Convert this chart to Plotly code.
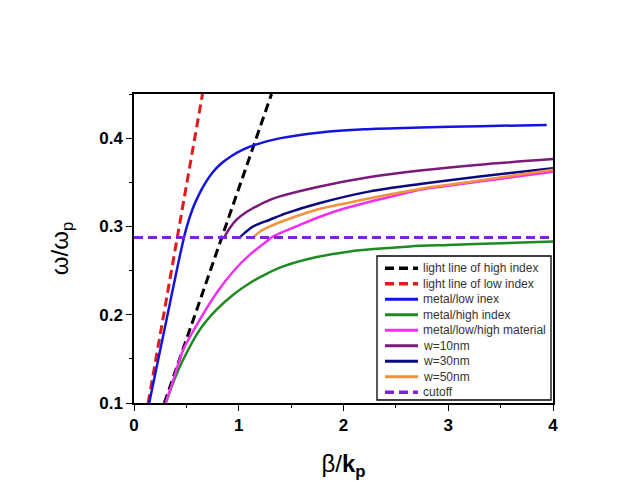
import plotly.graph_objects as go

# ---------------- data ----------------
black_x = [0.29, 1.313]
black_y = [0.10, 0.45]

red_x = [0.135, 0.654]
red_y = [0.10, 0.45]

blue_x = [0.145, 0.25, 0.35, 0.44, 0.50, 0.56, 0.62, 0.68, 0.75, 0.83, 0.92,
          1.04, 1.17, 1.40, 1.78, 2.2, 2.73, 3.3, 3.94]
blue_y = [0.100, 0.160, 0.217, 0.268, 0.298, 0.320, 0.336, 0.349, 0.361, 0.371, 0.379,
          0.387, 0.393, 0.400, 0.4065, 0.410, 0.412, 0.4135, 0.415]

green_x = [0.303, 0.38, 0.469, 0.628, 0.788, 0.947, 1.106, 1.265, 1.425, 1.744, 2.062,
           2.285, 2.635, 3.0, 3.5, 4.0]
green_y = [0.100, 0.125, 0.149, 0.183, 0.2057, 0.2226, 0.2359, 0.2463, 0.2547, 0.2653, 0.2717,
           0.2744, 0.2774, 0.279, 0.281, 0.283]

magenta_x = [0.303, 0.38, 0.469, 0.628, 0.788, 0.947, 1.106, 1.265, 1.329, 1.55, 1.775,
             2.0, 2.253, 2.5, 2.73, 3.0, 3.5, 4.0]
magenta_y = [0.100, 0.128, 0.160, 0.1943, 0.2246, 0.249, 0.268, 0.283, 0.2887, 0.300, 0.311,
             0.320, 0.328, 0.335, 0.3416, 0.346, 0.354, 0.362]

w10_x = [0.86, 0.92, 0.979, 1.07, 1.17, 1.297, 1.393, 1.775, 2.253, 2.73, 3.3, 4.0]
w10_y = [0.2875, 0.299, 0.3076, 0.316, 0.3227, 0.330, 0.334, 0.3453, 0.356, 0.3634, 0.370, 0.3763]

w30_x = [1.01, 1.06, 1.138, 1.297, 1.457, 1.775, 2.253, 2.73, 3.3, 4.0]
w30_y = [0.2875, 0.293, 0.300, 0.3076, 0.315, 0.3265, 0.3397, 0.348, 0.3565, 0.366]

w50_x = [1.138, 1.2, 1.297, 1.457, 1.775, 2.094, 2.253, 2.73, 3.3, 4.0]
w50_y = [0.2875, 0.294, 0.300, 0.3076, 0.320, 0.328, 0.332, 0.3425, 0.352, 0.3643]

cutoff_x = [0.0, 4.0]
cutoff_y = [0.2875, 0.2875]

series_names = ["light line of high index", "light line of low index", "metal/low inex",
                "metal/high index", "metal/low/high material", "w=10nm", "w=30nm",
                "w=50nm", "cutoff"]

x_ticks = [0, 1, 2, 3, 4]
y_ticks = [0.1, 0.2, 0.3, 0.4]

# ---------------- styles ----------------
colors = ["#000000", "#e01b1b", "#1414e0", "#1f8a1f", "#f030f0", "#7a1a7a",
          "#0a0a80", "#f3923a", "#7f22e0"]
dashed = [True, True, False, False, False, False, False, False, True]
DASH = "9px,5px"

xs = [black_x, red_x, blue_x, green_x, magenta_x, w10_x, w30_x, w50_x, cutoff_x]
ys = [black_y, red_y, blue_y, green_y, magenta_y, w10_y, w30_y, w50_y, cutoff_y]

fig = go.Figure()
for name, x, y, c, d in zip(series_names, xs, ys, colors, dashed):
    fig.add_trace(go.Scatter(
        x=x, y=y, mode="lines", name=name, showlegend=False,
        line=dict(color=c, width=3 if d else 2.5, dash=DASH if d else "solid",
                  shape="linear" if d else "spline", smoothing=0.8),
    ))

# ---------------- layout ----------------
OFF = 8  # page body margin
W, H = 621 - OFF, 494 - OFF
L, R, T, B = 134 - OFF, 553 - OFF, 94 - OFF, 403 - OFF


def px_x(p):
    return (p - OFF - L) / (R - L)


def px_y(p):
    return (B - (p - OFF)) / (B - T)


tickfont = dict(family="Arial, Liberation Sans", size=17, color="black", weight="bold")

fig.update_layout(
    width=W, height=H,
    margin=dict(l=L, r=W - R, t=T, b=H - B, autoexpand=False),
    paper_bgcolor="white", plot_bgcolor="white",
    showlegend=False,
    xaxis=dict(
        range=[0, 4], tickvals=x_ticks, ticktext=[str(v) for v in x_ticks],
        showgrid=False, zeroline=False,
        showline=True, linecolor="black", linewidth=1.5, mirror=True,
        ticks="outside", ticklen=6, tickwidth=1.3, tickcolor="black",
        minor=dict(dtick=0.5, tick0=0, ticks="outside", ticklen=3, tickwidth=1.2, tickcolor="black"),
        tickfont=tickfont,
        title=dict(text="β/<b>k<sub>p</sub></b>", standoff=21,
                   font=dict(family="Arial, Liberation Sans", size=24, color="black")),
    ),
    yaxis=dict(
        range=[0.1, 0.45], tickvals=y_ticks, ticktext=["%.1f" % v for v in y_ticks],
        showgrid=False, zeroline=False,
        showline=True, linecolor="black", linewidth=1.5, mirror=True,
        ticks="outside", ticklen=6, tickwidth=1.3, tickcolor="black",
        minor=dict(dtick=0.05, tick0=0.1, ticks="outside", ticklen=3, tickwidth=1.2, tickcolor="black"),
        tickfont=tickfont,
        title=dict(text="ω/ω<sub>p</sub>", standoff=24,
                   font=dict(family="Arial, Liberation Sans", size=24, color="black")),
    ),
)

# ---------------- manual legend (box, sample lines, labels) ----------------
box_l, box_r, box_t, box_b = 377, 551, 256, 400
fig.add_shape(type="rect", xref="paper", yref="paper",
              x0=px_x(box_l), x1=px_x(box_r), y0=px_y(box_b), y1=px_y(box_t),
              line=dict(color="black", width=1.3), fillcolor="white", layer="above")
row0, row_gap = 268.3, 15.5
sample_l, sample_r, text_l = 385, 418, 421
for i, (name, c, d) in enumerate(zip(series_names, colors, dashed)):
    yy = px_y(row0 + i * row_gap)
    fig.add_shape(type="line", xref="paper", yref="paper",
                  x0=px_x(sample_l), x1=px_x(sample_r), y0=yy, y1=yy,
                  line=dict(color=c, width=3.5 if d else 3, dash=DASH if d else "solid"),
                  layer="above")
    fig.add_annotation(xref="paper", yref="paper", x=px_x(text_l), y=yy,
                       xanchor="left", yanchor="middle", showarrow=False, text=name,
                       font=dict(family="Arial, Liberation Sans", size=12, color="#333333"))

fig.write_html("out.html")
